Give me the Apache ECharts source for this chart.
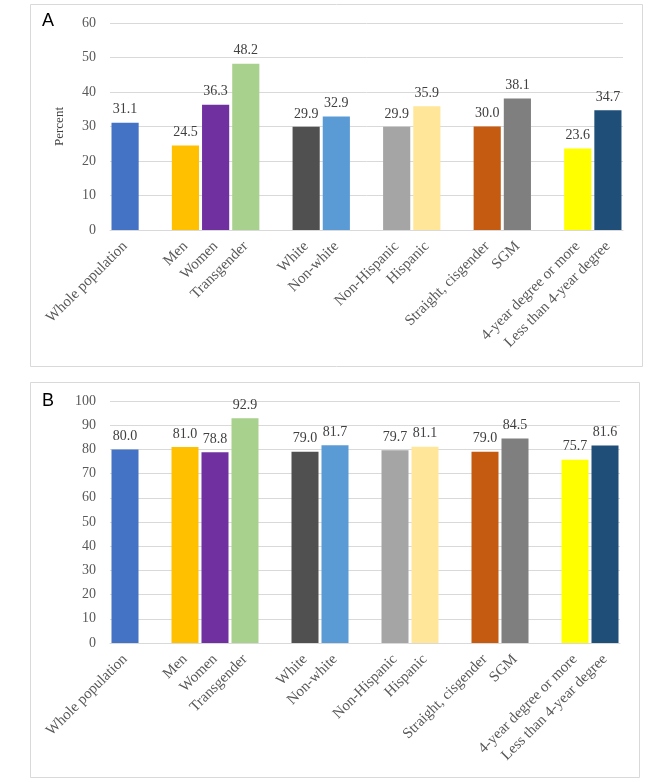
<!DOCTYPE html>
<html>
<head>
<meta charset="utf-8">
<script src="https://cdn.jsdelivr.net/npm/echarts@6/dist/echarts.min.js"></script>
<style>
html,body{margin:0;padding:0;background:#fff;}
#chart{width:669px;height:782px;}
</style>
</head>
<body>
<div id="chart"></div>
<script>
const categories = ['Whole population', '', 'Men', 'Women', 'Transgender', '', 'White', 'Non-white', '', 'Non-Hispanic', 'Hispanic', '', 'Straight, cisgender', 'SGM', '', '4-year degree or more', 'Less than 4-year degree'];
const valuesA = [31.1, null, 24.5, 36.3, 48.2, null, 29.9, 32.9, null, 29.9, 35.9, null, 30.0, 38.1, null, 23.6, 34.7];
const valuesB = [80.0, null, 81.0, 78.8, 92.9, null, 79.0, 81.7, null, 79.7, 81.1, null, 79.0, 84.5, null, 75.7, 81.6];
const barColors = ['#4472C4', null, '#FFC000', '#7030A0', '#A9D18E', null, '#505050', '#5B9BD5', null, '#A5A5A5', '#FFE699', null, '#C55A11', '#7F7F7F', null, '#FFFF00', '#1F4E79'];
const yTicksA = {min: 0, max: 60, interval: 10};
const yTicksB = {min: 0, max: 100, interval: 10};
const panelLetters = ['A', 'B'];
const yAxisTitle = 'Percent';

const serif = '"Liberation Serif", "Times New Roman", serif';

function mkData(vals) {
  return vals.map((v, i) => v == null ? '-' : {value: v, itemStyle: {color: barColors[i]}});
}

const chart = echarts.init(document.getElementById('chart'), null, {renderer: 'canvas'});

function xAxis(gi) {
  return {
    type: 'category', gridIndex: gi, data: categories,
    axisTick: {show: false},
    axisLine: {lineStyle: {color: '#d9d9d9', width: 1}},
    axisLabel: {interval: 0, rotate: 45, fontFamily: serif, fontSize: 15, color: '#595959', margin: 14}
  };
}
function yAxis(gi, t, name) {
  return {
    type: 'value', gridIndex: gi, min: t.min, max: t.max, interval: t.interval,
    name: name || '', nameLocation: 'middle', nameGap: 44, nameRotate: 90,
    nameTextStyle: {fontFamily: serif, fontSize: 13, color: '#404040'},
    axisLine: {show: false}, axisTick: {show: false},
    splitLine: {lineStyle: {color: '#d9d9d9', width: 1}},
    axisLabel: {fontFamily: serif, fontSize: 14, color: '#595959', margin: 14}
  };
}
function series(gi, vals) {
  return {
    type: 'bar', xAxisIndex: gi, yAxisIndex: gi, data: mkData(vals),
    barWidth: '90%',
    label: {show: true, position: 'top', distance: 6, fontFamily: serif, fontSize: 14, color: '#404040',
      formatter: p => Number(p.value).toFixed(1)}
  };
}

chart.setOption({
  animation: false,
  backgroundColor: '#fff',
  grid: [
    {left: 110, right: 46, top: 23, height: 207},
    {left: 110, right: 49, top: 401, height: 242}
  ],
  xAxis: [xAxis(0), xAxis(1)],
  yAxis: [yAxis(0, yTicksA, yAxisTitle), yAxis(1, yTicksB, '')],
  series: [series(0, valuesA), series(1, valuesB)],
  graphic: [
    {type: 'rect', shape: {x: 30.5, y: 4.5, width: 612, height: 362}, style: {fill: null, stroke: '#d9d9d9', lineWidth: 1}, silent: true, z: -1},
    {type: 'rect', shape: {x: 30.5, y: 382.5, width: 609, height: 395}, style: {fill: null, stroke: '#d9d9d9', lineWidth: 1}, silent: true, z: -1},
    {type: 'text', left: 42, top: 12, style: {text: panelLetters[0], font: '18px "Liberation Sans", Arial, sans-serif', fill: '#000'}},
    {type: 'text', left: 42, top: 392, style: {text: panelLetters[1], font: '18px "Liberation Sans", Arial, sans-serif', fill: '#000'}}
  ]
});
</script>
</body>
</html>
